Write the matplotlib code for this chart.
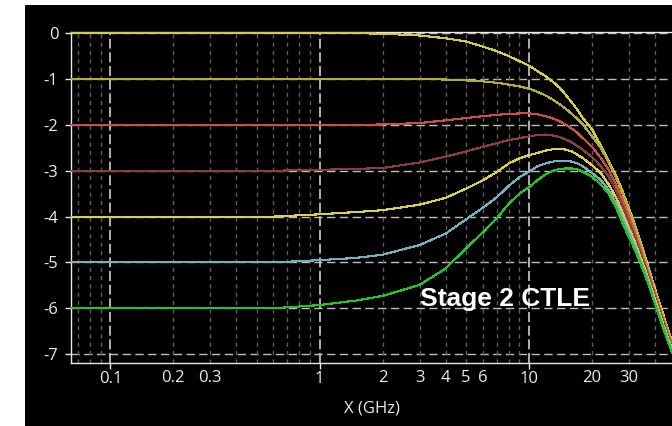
import matplotlib.pyplot as plt
from matplotlib.patches import Rectangle

# Frequency points (GHz) shared by all CTLE curves
freq_ghz = [0.065, 0.6, 1, 1.5, 2,
            3, 4, 5, 6, 7, 8, 9, 10, 11, 12, 13, 14, 15, 16, 17, 18,
            20, 22, 24, 26, 28, 30, 32, 34, 36, 38, 40, 42, 44, 46,
            48.5]

# Gain (dB) for each DC-gain setting
gain_0db = [0, 0, 0, 0, -0.01,
            -0.05, -0.11, -0.18, -0.29, -0.39, -0.5, -0.61, -0.71, -0.83, -0.94, -1.06, -1.19, -1.35, -1.51, -1.67, -1.84,
            -2.1, -2.45, -2.78, -3.1, -3.45, -3.82, -4.17, -4.53, -4.9, -5.25, -5.58, -5.88, -6.17, -6.45,
            -6.75]
gain_1db = [-1, -1, -1, -1, -1,
            -1, -1.01, -1.03, -1.05, -1.08, -1.12, -1.16, -1.21, -1.28, -1.36, -1.45, -1.55, -1.65, -1.76, -1.87, -1.98,
            -2.25, -2.5, -2.82, -3.15, -3.5, -3.88, -4.22, -4.6, -4.97, -5.31, -5.64, -5.94, -6.23, -6.5,
            -6.8]
gain_2db = [-2, -2, -2, -2, -1.99,
            -1.96, -1.9, -1.85, -1.81, -1.78, -1.76, -1.75, -1.75, -1.77, -1.81, -1.86, -1.92, -2.0, -2.08, -2.17, -2.28,
            -2.48, -2.72, -2.98, -3.3, -3.65, -4.0, -4.35, -4.7, -5.05, -5.38, -5.71, -6.0, -6.29, -6.55,
            -6.84]
gain_3db = [-3, -3, -2.98, -2.96, -2.94,
            -2.82, -2.69, -2.58, -2.48, -2.4, -2.33, -2.29, -2.25, -2.22, -2.21, -2.23, -2.27, -2.32, -2.38, -2.46, -2.54,
            -2.7, -2.9, -3.12, -3.42, -3.78, -4.12, -4.45, -4.8, -5.12, -5.44, -5.77, -6.06, -6.34, -6.6,
            -6.88]
gain_4db = [-4, -4, -3.95, -3.9, -3.86,
            -3.74, -3.59, -3.39, -3.21, -3.03, -2.84, -2.73, -2.66, -2.61, -2.56, -2.53, -2.52, -2.54, -2.58, -2.65, -2.72,
            -2.88, -3.05, -3.3, -3.58, -3.92, -4.25, -4.55, -4.88, -5.18, -5.5, -5.82, -6.11, -6.39, -6.64,
            -6.92]
gain_5db = [-5, -5, -4.95, -4.9, -4.83,
            -4.62, -4.37, -4.06, -3.81, -3.58, -3.33, -3.14, -3.02, -2.9, -2.84, -2.8, -2.78, -2.78, -2.8, -2.84, -2.9,
            -3.05, -3.2, -3.42, -3.7, -4.03, -4.35, -4.63, -4.95, -5.24, -5.55, -5.87, -6.15, -6.43, -6.68,
            -6.96]
gain_6db = [-6, -6, -5.93, -5.83, -5.73,
            -5.49, -5.13, -4.69, -4.35, -4.04, -3.72, -3.5, -3.36, -3.2, -3.08, -3.0, -2.96, -2.95, -2.95, -2.97, -3.02,
            -3.13, -3.3, -3.5, -3.8, -4.15, -4.45, -4.72, -5.02, -5.3, -5.6, -5.92, -6.2, -6.47, -6.72,
            -7.0]

curve_colors = ['#d2cc48', '#b4ac38', '#d04c4c', '#8c3e3e', '#d8d244', '#72b2ba', '#24c424']

major_x = [0.1, 1, 10]
major_x_labels = ['0.1', '1', '10']
minor_x = [0.07, 0.08, 0.09, 0.2, 0.3, 0.4, 0.5, 0.6, 0.7, 0.8, 0.9,
           2, 3, 4, 5, 6, 7, 8, 9, 20, 30, 40]
minor_x_labels = ['', '', '', '0.2', '0.3', '', '', '', '', '', '',
                  '2', '3', '4', '5', '6', '', '', '', '20', '30', '']
y_ticks = [0, -1, -2, -3, -4, -5, -6, -7]

text_color = '#e4ecf4'
plt.rcParams['font.family'] = ['Open Sans', 'DejaVu Sans']

fig = plt.figure(figsize=(6.72, 4.26), dpi=100, facecolor='white')
fig.add_artist(Rectangle((25 / 672, 0), 1 - 25 / 672, 421 / 426,
                         transform=fig.transFigure, facecolor='black',
                         edgecolor='none', zorder=-10))

ax = fig.add_axes([71 / 672, 62.7 / 426, 601 / 672, 331 / 426])
ax.set_facecolor('black')
ax.set_xscale('log')
ax.set_xlim(0.0649, 48.15)
ax.set_ylim(-7.2, 0.02)

# grid: light dashed at integer dB and decades, dark dashed at minor freqs
for y in y_ticks:
    ax.axhline(y, color='#bdbdbd', lw=1.0, dashes=(6, 3.2), zorder=1)
for x in minor_x:
    ax.axvline(x, color='#5e5e5e', lw=1.0, dashes=(3, 3), zorder=1)
for x in major_x:
    ax.axvline(x, color='#cfcfcf', lw=1.2, dashes=(6, 2.2), zorder=1)

gains = [gain_0db, gain_1db, gain_2db, gain_3db, gain_4db, gain_5db, gain_6db]
for g, c in zip(gains, curve_colors):
    ax.plot(freq_ghz, g, color=c, lw=0.8, antialiased=False, zorder=3)

ax.spines['right'].set_visible(False)
for side in ['left', 'bottom', 'top']:
    ax.spines[side].set_color('#e8e8e8')
    ax.spines[side].set_linewidth(1.0)

ax.set_yticks(y_ticks)
ax.set_yticklabels([str(v) for v in y_ticks])
ax.tick_params(axis='y', colors='#e8e8e8', labelcolor=text_color, length=4, width=1, pad=5, labelsize=12)

ax.set_xticks(major_x)
ax.set_xticklabels(major_x_labels)
ax.set_xticks(minor_x, minor=True)
ax.set_xticklabels(minor_x_labels, minor=True)
ax.tick_params(axis='x', which='major', colors='#e8e8e8', labelcolor=text_color, length=4, width=1, pad=1.5,
               labelsize=12)
ax.tick_params(axis='x', which='minor', labelcolor=text_color, length=0, pad=4.5, labelsize=12)

ax.set_xlabel('X (GHz)', color=text_color, fontsize=12, labelpad=10)

ax.text(3.0, -5.95, 'Stage 2 CTLE', color='white', fontsize=19, fontweight='bold',
        family='Liberation Sans', ha='left', va='baseline', zorder=5)

fig.savefig('out.png', dpi=100, facecolor=fig.get_facecolor())
